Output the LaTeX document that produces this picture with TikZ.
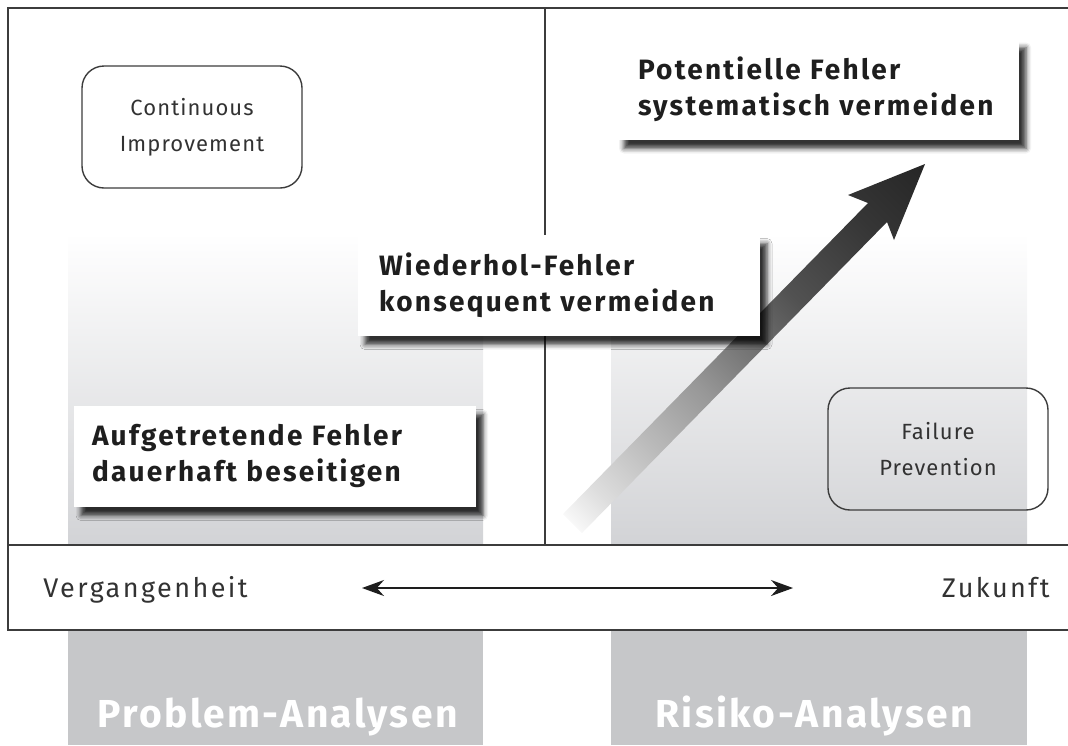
\documentclass[tikz,border=0pt]{standalone}
\usepackage{fontspec}
\setmainfont{Fira Sans}
\usetikzlibrary{shadows.blur,arrows.meta}
\definecolor{linec}{RGB}{60,60,60}
\definecolor{txt}{RGB}{30,30,30}
\definecolor{txtl}{RGB}{50,50,50}
\definecolor{colg}{RGB}{210,211,214}
\definecolor{colb}{RGB}{198,199,201}
\definecolor{arrowdark}{RGB}{38,38,38}
\pgfdeclareverticalshading{arrowshade}{100bp}{color(0bp)=(white); color(15bp)=(white); color(17.5bp)=(white!95!black); color(21.7bp)=(white!87!black); color(30.9bp)=(white!74!black); color(42.2bp)=(white!59!black); color(49.2bp)=(white!47!black); color(59.8bp)=(white!32!black); color(74bp)=(white!21!black); color(85.3bp)=(arrowdark); color(100bp)=(arrowdark)}
\begin{document}
\begin{tikzpicture}[x=0.5pt,y=-0.5pt,
  frameline/.style={draw=linec,line width=0.8pt},
  msgbox/.style={fill=white, minimum width=201pt, minimum height=50.5pt,
    text width=180pt, inner xsep=10.5pt, align=left, text=txt,
    font=\fontsize{14}{18}\selectfont\bfseries\addfontfeatures{LetterSpace=8},
    blur shadow={shadow xshift=3.5pt, shadow yshift=-4.5pt, shadow blur radius=2.5pt, shadow opacity=80}},
  roundbox/.style={draw=linec, line width=0.7pt, rounded corners=11pt,
    minimum width=110pt, minimum height=61pt, align=center, text=txtl,
    font=\fontsize{11}{18}\selectfont\addfontfeatures{LetterSpace=5}},
  timelabel/.style={text=txtl, inner sep=0pt, font=\fontsize{13.5}{15}\selectfont\addfontfeatures{LetterSpace=9}},
  collabel/.style={text=white, inner sep=0pt, font=\fontsize{19.5}{22}\selectfont\bfseries\addfontfeatures{LetterSpace=6}}
]
\useasboundingbox (0,0) rectangle (1068,745);
% gray columns
\shade[top color=white, bottom color=colg] (68,233) rectangle (483,545);
\shade[top color=white, bottom color=colg] (611,233) rectangle (1027,545);
\fill[colb] (68,630) rectangle (483,745);
\fill[colb] (611,630) rectangle (1027,745);
% frame
\draw[frameline] (1068,8) -- (8,8) -- (8,630) -- (1068,630);
\draw[frameline] (8,545) -- (1068,545);
\draw[frameline] (545,8) -- (545,545);
% big arrow
\shade[shading=arrowshade, shading angle=-45]
  (563,514) -- (868,203) -- (848,195) -- (925,164) -- (894,240) -- (887,222) -- (582,533) -- cycle;
% message boxes
\node[msgbox] (pot) at (818,89) {Potentielle Fehler\\systematisch vermeiden};
\node[msgbox] (wied) at (559,285) {Wiederhol-Fehler\\konsequent vermeiden};
\node[msgbox, inner xsep=9pt, text width=183pt] (auf) at (275,456) {Aufgetretende Fehler\\dauerhaft beseitigen};
% rounded boxes
\node[roundbox] (ci) at (192,127) {Continuous\\Improvement};
\node[roundbox] (fp) at (938,449) {Failure\\Prevention};
% timeline
\node[timelabel, anchor=base west] (verg) at (43,597) {Vergangenheit};
\node[timelabel, anchor=base east] (zuk) at (1050,597) {Zukunft};
\coordinate (tl) at (362,588);
\coordinate (tr) at (793,588);
\draw[line width=0.7pt, draw=txt, {Stealth[length=11pt,width=8pt]}-{Stealth[length=11pt,width=8pt]}] (tl) -- (tr);
% column labels
\node[collabel, anchor=base] (pa) at (277.5,727) {Problem-Analysen};
\node[collabel, anchor=base] (ra) at (814,727) {Risiko-Analysen};
\end{tikzpicture}
\end{document}
